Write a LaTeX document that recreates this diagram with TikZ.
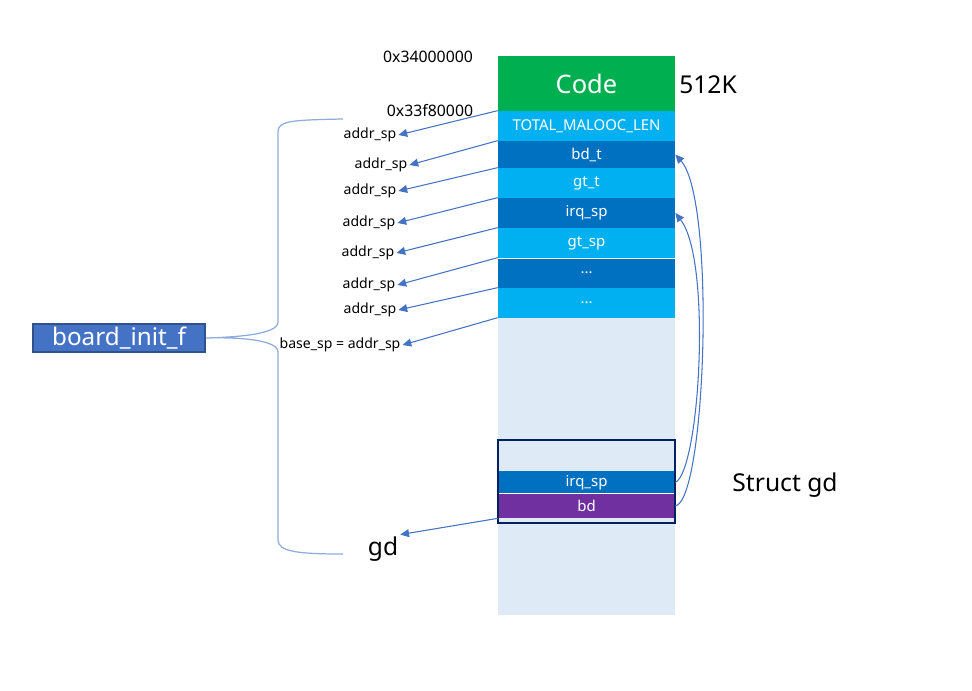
\documentclass[tikz,border=0pt]{standalone}
\usepackage{fontspec}
\setmainfont{Noto Sans}
\usepackage{tikz}
\usetikzlibrary{positioning}
\usetikzlibrary{arrows.meta}
\definecolor{codegreen}{HTML}{00B050}
\definecolor{cellLight}{HTML}{00B0F0}
\definecolor{cellDark}{HTML}{0070C0}
\definecolor{cellPurple}{HTML}{7030A0}
\definecolor{memBack}{HTML}{DEEBF7}
\definecolor{frameNavy}{HTML}{002060}
\definecolor{ptrBlue}{HTML}{4472C4}
\definecolor{braceBlue}{HTML}{8FAADC}
\definecolor{funcEdge}{HTML}{2F528F}
\tikzset{
    cell/.style={minimum width=3.54cm, minimum height=0.6cm, inner sep=0pt,
        text=white, font=\fontsize{8.5}{10}\selectfont},
    spLabel/.style={inner sep=1pt, font=\fontsize{8}{10}\selectfont},
    addrLabel/.style={inner sep=0pt, font=\fontsize{9}{11}\selectfont},
    bigLabel/.style={inner sep=1pt, font=\fontsize{14}{16}\selectfont},
    ptr/.style={ptrBlue, line width=0.6pt, -{Triangle[length=5pt,width=4.5pt]}},
    brace/.style={braceBlue, line width=0.7pt}
}

\begin{document}
\begin{tikzpicture}[x=0.02cm, y=-0.02cm]
        \useasboundingbox (0,0) rectangle (972,690);
        % memory column
        \node[cell, fill=memBack, minimum height=5.94cm] (heap) at (586.5,466.5) {};
        \node[cell, fill=codegreen, minimum height=1.1cm, font=\fontsize{14.5}{16}\selectfont] (code) at (586.5,83.5) {Code};
        \node[cell, fill=cellLight] (total) at (586.5,126) {TOTAL\_MALOOC\_LEN};
        \node[cell, fill=cellDark, minimum height=0.54cm] (bdt) at (586.5,154.5) {bd\_t};
        \node[cell, fill=cellLight] (gtt) at (586.5,183) {gt\_t};
        \node[cell, fill=cellDark] (irq) at (586.5,213) {irq\_sp};
        \node[cell, fill=cellLight] (gtsp) at (586.5,243) {gt\_sp};
        \node[cell, fill=cellDark] (dotsA) at (586.5,273) {...};
        \node[cell, fill=cellLight] (dotsB) at (586.5,303) {...};
        \draw[white, line width=0.6pt] (gtsp.south west) -- (gtsp.south east);
        % struct gd
        \node[cell, fill=cellDark, minimum height=0.46cm] (irqGd) at (586.5,482.5) {irq\_sp};
        \node[cell, fill=cellPurple, minimum height=0.48cm] (bd) at (586.5,506) {bd};
        \draw[white, line width=0.6pt] (bd.north west) -- (bd.north east);
        \node[draw=frameNavy, line width=1.2pt, minimum width=3.54cm, minimum height=1.66cm] (gdBox) at (586.5,481.5) {};
        \node[bigLabel] (gdName) at (785,485) {Struct gd};

        \node[addrLabel] (topAddr) at (428,57) {0x34000000};
        \node[addrLabel] (midAddr) at (430,111) {0x33f80000};
        \node[bigLabel] (size) at (708,85) {512K};

        % stack pointer labels
        \node[spLabel] (sp1) at (370,135) {addr\_sp};
        \node[spLabel] (sp2) at (381,165) {addr\_sp};
        \node[spLabel] (sp3) at (370,191) {addr\_sp};
        \node[spLabel] (sp4) at (369,223) {addr\_sp};
        \node[spLabel] (sp5) at (368,253) {addr\_sp};
        \node[spLabel] (sp6) at (369,285) {addr\_sp};
        \node[spLabel] (sp7) at (370,310) {addr\_sp};
        \node[spLabel] (base) at (340,345) {base\_sp = addr\_sp};
        \node[bigLabel] (gd) at (383,549) {gd};

        \draw[ptr] (total.north west) -- (sp1.east);
        \draw[ptr] (bdt.north west) -- (sp2.east);
        \draw[ptr] (gtt.north west) -- (sp3.east);
        \draw[ptr] (irq.north west) -- (sp4.east);
        \draw[ptr] (gtsp.north west) -- (sp5.east);
        \draw[ptr] (dotsA.north west) -- (sp6.east);
        \draw[ptr] (dotsB.north west) -- (sp7.east);
        \draw[ptr] (heap.north west) -- (base.east);
        \draw[ptr] (bd.south west) -- (gd.north east);

        % gd members point back
        \draw[ptr] (irqGd.east) .. controls (700,470) and (712,260) .. (irq.east);
        \draw[ptr] (bd.east) .. controls (706,500) and (716,200) .. (bdt.east);

        % board_init_f with brace
        \node[draw=funcEdge, line width=1pt, fill=ptrBlue, text=white, minimum width=3.44cm, minimum height=0.56cm, inner sep=0pt, font=\fontsize{13.8}{16}\selectfont] (init) at (119,338) {board\_init\_f};
        \draw[brace] (343,119) .. controls (290,120) and (278,121) .. (278,132) -- (278,322)
            .. controls (278,334) and (240,337) .. (init.east)
            .. controls (240,337) and (278,340) .. (278,352) -- (278,540)
            .. controls (278,552) and (300,554) .. (343,554);
      \end{tikzpicture}
\end{document}
